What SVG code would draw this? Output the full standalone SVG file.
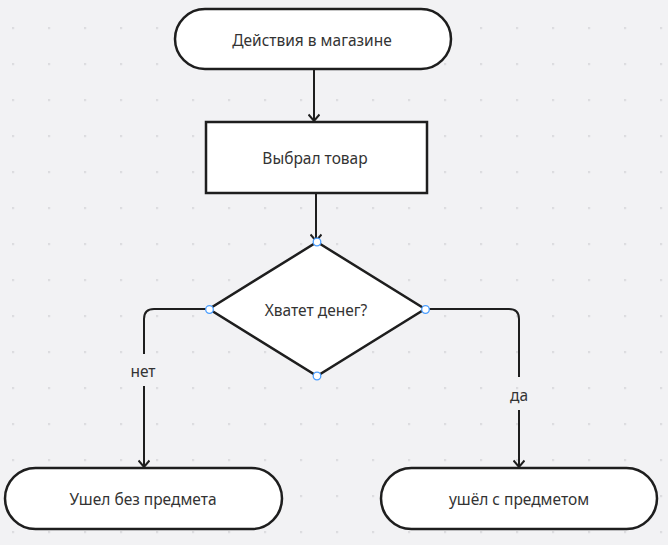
<svg xmlns="http://www.w3.org/2000/svg" width="668" height="545" viewBox="0 0 668 545">
<defs>
<pattern id="grid" x="0" y="0" width="36" height="36" patternUnits="userSpaceOnUse" patternTransform="translate(12.3,27.3)">
<rect x="0" y="0" width="1.5" height="1.5" fill="#c4c4c8"/>
</pattern>
<marker id="arr" viewBox="0 0 12 12" refX="10.5" refY="6" markerWidth="12" markerHeight="12" markerUnits="userSpaceOnUse" orient="auto">
<path d="M4,0.5 L10.5,6 L4,11.5" fill="none" stroke="#1e1e1e" stroke-width="2"/>
</marker>
</defs>
<style>
.shape{fill:#ffffff;stroke:#1e1e1e;stroke-width:2.5}
.lbl{font-family:"Noto Sans","Open Sans","Liberation Sans",sans-serif;font-size:15.5px;fill:#333333;text-anchor:middle;dominant-baseline:central}
.conn{fill:none;stroke:#1e1e1e;stroke-width:2}
.pt{fill:#ffffff;stroke:#4a9eff;stroke-width:1.3}
</style>
<rect width="668" height="545" fill="#f2f2f4"/>
<rect width="668" height="545" fill="url(#grid)"/>
<g id="connectors">
<line class="conn" x1="314" y1="69" x2="314" y2="121" marker-end="url(#arr)"/>
<line class="conn" x1="316" y1="193" x2="316" y2="241" marker-end="url(#arr)"/>
<path class="conn" d="M209,309 L154,309 Q144,309 144,319 L144,354"/>
<path class="conn" d="M144,386 L144,467" marker-end="url(#arr)"/>
<text class="lbl" x="143" y="371">нет</text>
<path class="conn" d="M425,309 L509,309 Q519,309 519,319 L519,377"/>
<path class="conn" d="M519,410 L519,467" marker-end="url(#arr)"/>
<text class="lbl" x="519" y="395">да</text>
</g>
<g id="start">
<rect class="shape" x="175" y="9" width="276" height="60" rx="30"/>
<text class="lbl" x="312" y="40">Действия в магазине</text>
</g>
<g id="choose">
<rect class="shape" x="206" y="122" width="221" height="71"/>
<text class="lbl" x="315" y="158">Выбрал товар</text>
</g>
<g id="decision">
<polygon class="shape" points="317,242 425,309 317,376 209,309"/>
<text class="lbl" x="316" y="310">Хватет денег?</text>
<circle class="pt" cx="317" cy="242" r="3.8"/>
<circle class="pt" cx="209.5" cy="309.5" r="3.8"/>
<circle class="pt" cx="425.5" cy="309.5" r="3.8"/>
<circle class="pt" cx="317" cy="376" r="3.8"/>
</g>
<g id="no">
<rect class="shape" x="5" y="468" width="277" height="61" rx="30.5"/>
<text class="lbl" x="143" y="499">Ушел без предмета</text>
</g>
<g id="yes">
<rect class="shape" x="381" y="468" width="276" height="61" rx="30.5"/>
<text class="lbl" x="519" y="499">ушёл с предметом</text>
</g>
</svg>
